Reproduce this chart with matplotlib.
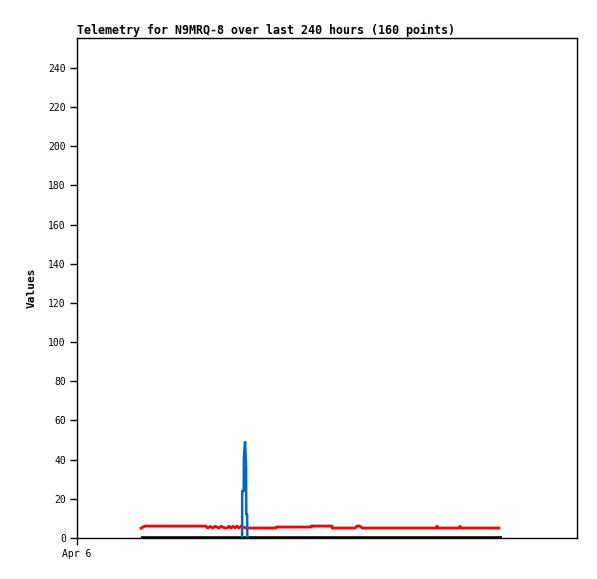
import matplotlib
matplotlib.use("Agg")
import matplotlib.pyplot as plt

# Hours since Apr 6 00:00
red_t = [42.9, 44.2, 45.6, 86.4, 87.5, 89.1, 91.1, 92.5, 95.1, 96.5, 99.2, 100.5, 101.8, 103.2, 104.5, 105.8, 107.2, 108.5, 109.8,
         111.5, 113.0, 133.3, 133.4, 156.8, 156.9, 170.9, 171.0, 186.3, 187.6, 189.6, 191.0,
         240.5, 241.2, 241.9, 256.0, 256.6, 257.3, 282.7]
red_v = [5.0, 5.6, 6.1, 6.1, 5.1, 5.9, 5.1, 6.0, 5.1, 6.0, 5.1, 5.1, 6.0, 5.1, 6.0, 5.2, 6.1, 5.1, 6.0,
         5.6, 5.1, 5.1, 5.6, 5.6, 6.1, 6.1, 5.1, 5.1, 6.1, 6.1, 5.1,
         5.1, 6.0, 5.1, 5.1, 6.0, 5.1, 5.1]

blue_t = [110.6, 110.7, 111.7, 111.8, 112.6, 113.3, 113.4, 114.0, 114.1]
blue_v = [0, 24, 24, 41, 49, 36, 12, 12, 0]

black_t = [42.9, 285.0]
black_v = [0, 0]

y_ticks = [0, 20, 40, 60, 80, 100, 120, 140, 160, 180, 200, 220, 240]
x_ticks = [0]
x_labels = ["Apr 6"]

title = "Telemetry for N9MRQ-8 over last 240 hours (160 points)"

fig = plt.figure(figsize=(5.97, 5.79), dpi=100)
ax = fig.add_axes([77/597, 41/579, 500/597, 500/579])

ax.plot(black_t, black_v, color="black", lw=2.6, solid_capstyle="butt")
ax.plot(red_t, red_v, color="#ff0000", lw=2.0)
ax.plot(blue_t, blue_v, color="#0066cc", lw=1.8)

ax.set_xlim(0, 335)
ax.set_ylim(0, 255.3)
ax.set_yticks(y_ticks)
ax.set_yticklabels([str(v) for v in y_ticks], family="DejaVu Sans Mono", fontsize=7)
ax.set_xticks(x_ticks)
ax.set_xticklabels(x_labels, family="DejaVu Sans Mono", fontsize=7)
ax.tick_params(direction="out", length=5, width=1, color="black", pad=3)
for s in ax.spines.values():
    s.set_color("black")
    s.set_linewidth(1)

ax.set_ylabel("Values", family="DejaVu Sans Mono", fontweight="bold", fontsize=8, labelpad=8)
ax.set_title(title, family="DejaVu Sans Mono", fontweight="bold", fontsize=8.35, loc="left", pad=3)

fig.savefig("out.png", dpi=100)
